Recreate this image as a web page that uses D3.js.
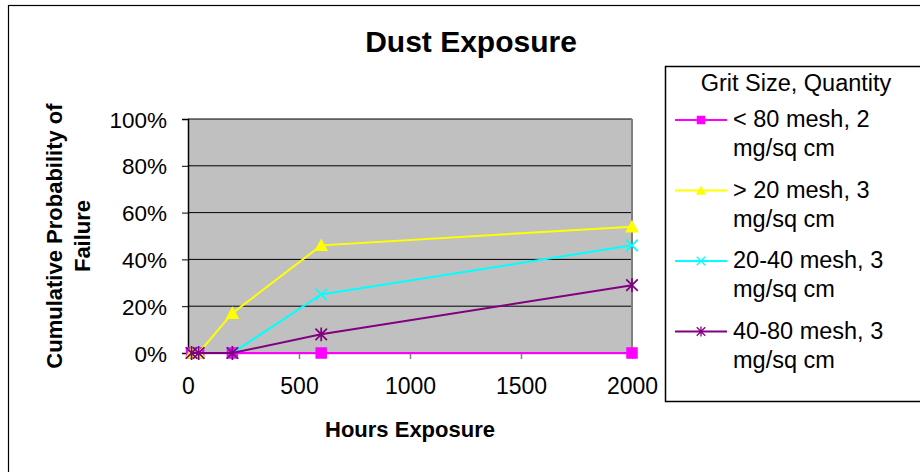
<!DOCTYPE html>
<html>
<head>
<meta charset="utf-8">
<script src="https://cdn.jsdelivr.net/npm/d3@7"></script>
<style>
    body { margin: 0; background: #fff; }
    svg { display: block; font-family: "Liberation Sans", Arial, sans-serif; }
</style>
</head>
<body>
<div class="chart"></div>
<script>
// data
const hours = [16, 48, 200, 600, 2000];
const seriesNames = ["< 80 mesh, 2 mg/sq cm", "> 20 mesh, 3 mg/sq cm", "20-40 mesh, 3 mg/sq cm", "40-80 mesh, 3 mg/sq cm"];
const mesh80 = [0, 0, 0, 0, 0];
const mesh20 = [0, 0, 0.17, 0.46, 0.54];
const mesh2040 = [0, 0, 0, 0.25, 0.46];
const mesh4080 = [0, 0, 0, 0.08, 0.29];
const seriesColors = ["#ff00ff", "#ffff00", "#00ffff", "#800080"];
const seriesMarkers = ["square", "triangle", "x", "star"];
const xTicks = [0, 500, 1000, 1500, 2000];
const yTicks = [0, 0.2, 0.4, 0.6, 0.8, 1];

document.addEventListener("DOMContentLoaded", () => {
    drawChart();
})

function drawChart() {
    const width = 920, height = 472;
    const plot = {left: 188, right: 632, top: 119, bottom: 353};
    const allValues = [mesh80, mesh20, mesh2040, mesh4080];

    const svg = d3.select(".chart")
        .append("svg")
        .attr("width", width)
        .attr("height", height);

    // outer chart border (runs off the right and bottom)
    svg.append("rect")
        .attr("x", 8.5).attr("y", 5.5)
        .attr("width", 930).attr("height", 480)
        .attr("fill", "none")
        .attr("stroke", "#000")
        .attr("stroke-width", 1.2);

    const x = d3.scaleLinear().domain([0, 2000]).range([plot.left, plot.right]);
    const y = d3.scaleLinear().domain([0, 1]).range([plot.bottom, plot.top]);

    // plot area
    svg.append("rect")
        .attr("x", plot.left).attr("y", plot.top)
        .attr("width", plot.right - plot.left)
        .attr("height", plot.bottom - plot.top)
        .attr("fill", "#c0c0c0");

    // gridlines
    svg.append("g")
        .selectAll("line")
        .data(yTicks.filter(d => d > 0))
        .enter()
        .append("line")
            .attr("x1", plot.left).attr("x2", plot.right)
            .attr("y1", d => y(d)).attr("y2", d => y(d))
            .attr("stroke", "#000")
            .attr("stroke-width", 1);

    // right edge of plot area
    svg.append("line")
        .attr("x1", plot.right).attr("x2", plot.right)
        .attr("y1", plot.top).attr("y2", plot.bottom)
        .attr("stroke", "#808080")
        .attr("stroke-width", 2);

    // Y axis
    const yAxis = d3.axisLeft(y)
        .tickValues(yTicks)
        .tickFormat(d3.format(".0%"))
        .tickSize(6)
        .tickPadding(15);
    const yg = svg.append("g")
        .attr("transform", `translate(${plot.left},0)`)
        .call(yAxis);
    yg.select(".domain").attr("stroke", "#000").attr("stroke-width", 1.5);
    yg.selectAll(".tick line").attr("stroke", "#000");
    yg.selectAll("text")
        .attr("fill", "#000")
        .style("font-size", "22.5px")
        .attr("dy", "0.36em");

    // X axis
    const xAxis = d3.axisBottom(x)
        .tickValues(xTicks)
        .tickFormat(d3.format("d"))
        .tickSize(6)
        .tickSizeOuter(0)
        .tickPadding(19);
    const xg = svg.append("g")
        .attr("transform", `translate(0,${plot.bottom})`)
        .call(xAxis);
    xg.select(".domain").attr("stroke", "#808080").attr("stroke-width", 1.5);
    xg.selectAll(".tick line").attr("stroke", "#808080").attr("stroke-width", 1.5);
    xg.selectAll("text")
        .attr("fill", "#000")
        .style("font-size", "23px");

    // titles
    svg.append("text")
        .attr("x", 471).attr("y", 52)
        .attr("text-anchor", "middle")
        .style("font-size", "30px")
        .style("font-weight", "bold")
        .text("Dust Exposure");

    svg.append("text")
        .attr("x", 410).attr("y", 437)
        .attr("text-anchor", "middle")
        .style("font-size", "22px")
        .style("font-weight", "bold")
        .text("Hours Exposure");

    const yTitle = svg.append("text")
        .attr("transform", `translate(62,${(plot.top + plot.bottom) / 2}) rotate(-90)`)
        .attr("text-anchor", "middle")
        .style("font-size", "22px")
        .style("font-weight", "bold");
    yTitle.append("tspan").attr("x", 0).attr("dy", 0).text("Cumulative Probability of");
    yTitle.append("tspan").attr("x", 0).attr("dy", 28).text("Failure");

    // lines and markers
    const line = d3.line()
        .x((d, i) => x(hours[i]))
        .y(d => y(d));

    allValues.forEach((values, s) => {
        const g = svg.append("g").attr("class", "series");
        g.append("path")
            .datum(values)
            .attr("d", line)
            .attr("fill", "none")
            .attr("stroke", seriesColors[s])
            .attr("stroke-width", 2);
        g.selectAll("g.marker")
            .data(values)
            .enter()
            .append("g")
                .attr("class", "marker")
                .attr("transform", (d, i) => `translate(${x(hours[i])},${y(d)})`)
                .each(function() { drawMarker(d3.select(this), seriesMarkers[s], seriesColors[s], 1.15); });
    })

    // legend
    const legend = svg.append("g");
    legend.append("rect")
        .attr("x", 665.5).attr("y", 66.5)
        .attr("width", 280).attr("height", 335)
        .attr("fill", "#fff")
        .attr("stroke", "#000")
        .attr("stroke-width", 1.5);
    legend.append("text")
        .attr("x", 796).attr("y", 91)
        .attr("text-anchor", "middle")
        .style("font-size", "23.5px")
        .text("Grit Size, Quantity");

    seriesNames.forEach((name, s) => {
        const cy = 120 + s * 70.5;
        const item = legend.append("g");
        item.append("line")
            .attr("x1", 675).attr("x2", 727)
            .attr("y1", cy).attr("y2", cy)
            .attr("stroke", seriesColors[s])
            .attr("stroke-width", 2);
        const m = item.append("g").attr("transform", `translate(701,${cy})`);
        drawMarker(m, seriesMarkers[s], seriesColors[s], 0.85);
        const words = name.split(", ");
        const t = item.append("text")
            .attr("x", 733).attr("y", cy + 7)
            .style("font-size", "23.5px");
        t.append("tspan").attr("x", 733).text(words[0] + ", " + words[1].split(" ")[0]);
        t.append("tspan").attr("x", 733).attr("dy", 29).text(words[1].split(" ").slice(1).join(" "));
    })
}

function drawMarker(g, type, color, k) {
    const shape = g.append("g").attr("transform", `scale(${k})`);
    if (type == "square") {
        shape.append("rect")
            .attr("x", -5).attr("y", -5)
            .attr("width", 10).attr("height", 10)
            .attr("fill", color);
    } else if (type == "triangle") {
        shape.append("path")
            .attr("d", "M0,-6L6,5L-6,5Z")
            .attr("fill", color);
    } else if (type == "x") {
        shape.append("path")
            .attr("d", "M-5,-5L5,5M-5,5L5,-5")
            .attr("stroke", color)
            .attr("stroke-width", 1.5);
    } else {
        shape.append("path")
            .attr("d", "M-5,-5L5,5M-5,5L5,-5M0,-6L0,6")
            .attr("stroke", color)
            .attr("stroke-width", 1.5);
    }
}
</script>
</body>
</html>
